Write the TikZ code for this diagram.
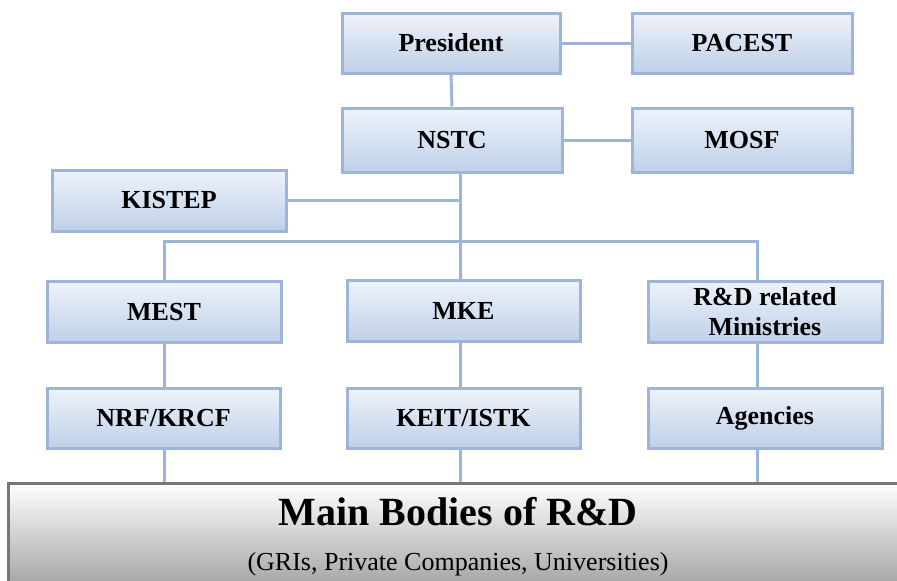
\documentclass[tikz,border=0pt]{standalone}
\usepackage{fontspec}
\setmainfont{Liberation Serif}
\definecolor{boxline}{HTML}{9DB5D8}
\definecolor{boxtop}{HTML}{EEF3FA}
\definecolor{boxbot}{HTML}{BFD0E8}
\definecolor{mainline}{HTML}{767676}
\definecolor{mainbot}{HTML}{A0A0A0}
\tikzset{
  orgbox/.style={draw=boxline, line width=3pt, top color=boxtop, bottom color=boxbot,
    minimum height=60pt, inner sep=0pt, align=center,
    font=\fontsize{26}{30}\selectfont\bfseries, text=black},
  conn/.style={draw=boxline, line width=3pt},
}
\begin{document}
\begin{tikzpicture}[x=1pt,y=-1pt]
\useasboundingbox (0,0) rectangle (897,581);
\clip (0,0) rectangle (897,581);
% top rows
\node[orgbox, minimum width=218pt, minimum height=60pt] (pres) at (451,43) {President};
\node[orgbox, minimum width=220pt, minimum height=60pt] (pac) at (742,43) {PACEST};
\node[orgbox, minimum width=220pt, minimum height=64pt] (nstc) at (452,140) {NSTC};
\node[orgbox, minimum width=220pt, minimum height=64pt] (mosf) at (742,140) {MOSF};
\node[orgbox, minimum width=234pt, minimum height=61pt] (kistep) at (169,200.5) {KISTEP};
% ministries
\node[orgbox, minimum width=234pt, minimum height=61pt] (mest) at (164,312) {MEST};
\node[orgbox, minimum width=233pt, minimum height=61pt] (mke) at (463.5,311) {MKE};
\node[orgbox, minimum width=234pt, minimum height=61pt] (rd) at (765,311.5) {R\&D related\\Ministries};
% agencies
\node[orgbox, minimum width=233pt, minimum height=60pt] (nrf) at (163.5,418) {NRF/KRCF};
\node[orgbox, minimum width=233pt, minimum height=60pt] (keit) at (463.5,418) {KEIT/ISTK};
\node[orgbox, minimum width=234pt, minimum height=60pt] (ag) at (765,418) {Agencies};
% main bodies
\node[draw=mainline, line width=3pt, top color=white, bottom color=mainbot,
  minimum width=910pt, minimum height=108pt, inner sep=0pt] (main) at (463,537) {};
\node[anchor=base, font=\fontsize{40}{44}\selectfont\bfseries] (title) at (458,525) {Main Bodies of R\&D};
\node[anchor=base, font=\fontsize{26}{28}\selectfont] (sub) at (458,570) {(GRIs, Private Companies, Universities)};
% coordinates
\coordinate (trunk) at (460,241);
\coordinate (c1) at (164,241);
\coordinate (c3) at (757,241);
% connectors
\draw[conn] (pres.east) -- (pac.west);
\draw[conn] (nstc.east) -- (mosf.west);
\draw[conn] (pres.south) -- (nstc.north);
\draw[conn] (nstc.south -| trunk) -- (mke.north -| trunk);
\draw[conn] (kistep.east) -- (kistep.east -| trunk);
\draw[conn] (mest.north -| c1) -- (c1) -- (c3) -- (rd.north -| c3);
\draw[conn] (mest.south -| c1) -- (nrf.north -| c1);
\draw[conn] (mke.south -| trunk) -- (keit.north -| trunk);
\draw[conn] (rd.south -| c3) -- (ag.north -| c3);
\draw[conn] (nrf.south -| c1) -- (main.north -| c1);
\draw[conn] (keit.south -| trunk) -- (main.north -| trunk);
\draw[conn] (ag.south -| c3) -- (main.north -| c3);
\end{tikzpicture}
\end{document}
